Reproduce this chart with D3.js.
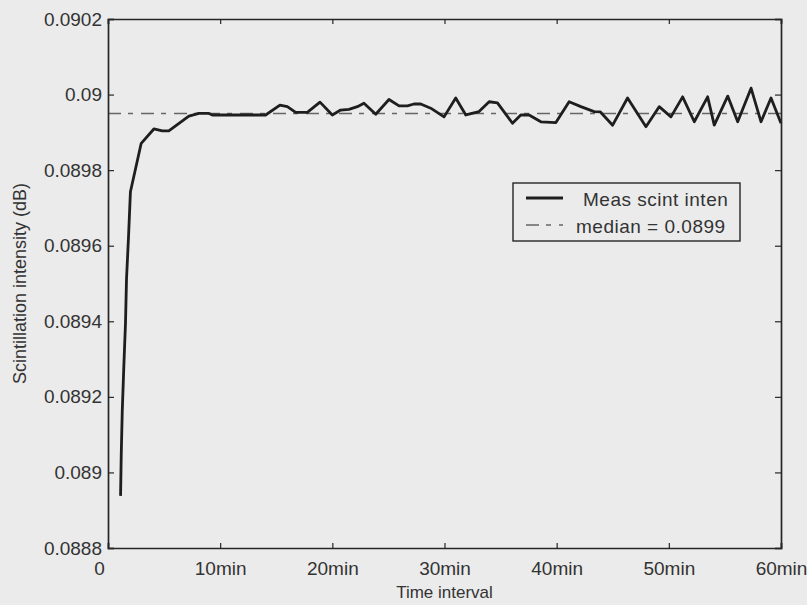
<!DOCTYPE html>
<html>
<head>
<meta charset="utf-8">
<script src="https://cdn.jsdelivr.net/npm/d3@7"></script>
<style>
    body { margin: 0; background: #ebebeb; }
    svg { display: block; }
</style>
</head>
<body>
<svg id="chart"></svg>
<script>
// time (minutes) of each measurement
var times = [1.12, 1.18, 1.27, 1.41, 1.56, 1.65, 1.83, 2.0, 2.96, 4.09, 4.84, 5.42, 7.21, 8.1, 9.0, 9.3,
    14.05, 15.33, 15.99, 16.73, 17.77, 18.9, 20.0, 20.74, 21.48, 22.23, 22.82, 23.87, 25.05, 25.95,
    26.7, 27.28, 27.88, 28.77, 29.96, 31.0, 31.9, 33.08, 33.98, 34.72, 36.06, 36.8, 37.54, 38.59,
    39.93, 41.11, 42.16, 43.34, 43.9, 44.99, 46.32, 47.96, 49.14, 50.19, 51.23, 52.27, 53.46,
    54.05, 55.25, 56.14, 57.33, 58.22, 59.11, 60];

// measured scintillation intensity (dB)
var intensity = [0.088938, 0.089046, 0.089161, 0.089280, 0.089395, 0.089512, 0.089624, 0.089743,
    0.089871, 0.089909, 0.089904, 0.089904, 0.089943, 0.089950, 0.089950, 0.089946,
    0.089946, 0.089972, 0.089968, 0.089953, 0.089953, 0.089980, 0.089946, 0.089959, 0.089961,
    0.089968, 0.089977, 0.089948, 0.089987, 0.089970, 0.089970, 0.089975, 0.089975, 0.089964,
    0.089941, 0.089991, 0.089946, 0.089955, 0.089981, 0.089978, 0.089924, 0.089946, 0.089946,
    0.089928, 0.089926, 0.089981, 0.089968, 0.089955, 0.089954, 0.089919, 0.089991, 0.089915,
    0.089968, 0.089941, 0.089994, 0.089928, 0.089994, 0.089919, 0.089996, 0.089928, 0.090017,
    0.089928, 0.089991, 0.089924];

var median = 0.08995;

var x_ticks = [0, 10, 20, 30, 40, 50, 60];
var x_labels = ["0", "10min", "20min", "30min", "40min", "50min", "60min"];
var y_ticks = [0.0888, 0.089, 0.0892, 0.0894, 0.0896, 0.0898, 0.09, 0.0902];
var y_labels = ["0.0888", "0.089", "0.0892", "0.0894", "0.0896", "0.0898", "0.09", "0.0902"];

var legend_labels = ["Meas scint inten", "median = 0.0899"];

var width = 807, height = 605;
var margin = ({top: 19, right: 26, bottom: 57, left: 108});
var font = "Arial, 'Liberation Sans', sans-serif";
var ink = "#262626";

var data = times.map((t, i) => ({t: t, v: intensity[i]}));

var x = d3.scaleLinear()
    .domain([0, 60])
    .range([margin.left, width - margin.right]);

var y = d3.scaleLinear()
    .domain([0.0888, 0.0902])
    .range([height - margin.bottom, margin.top]);

var svg = d3.select("#chart")
    .attr("width", width)
    .attr("height", height)
    .style("font-family", font);

svg.append("rect")
    .attr("width", width)
    .attr("height", height)
    .attr("fill", "#ebebeb");

// median line
svg.append("line")
    .attr("x1", x(0))
    .attr("x2", x(60))
    .attr("y1", y(median))
    .attr("y2", y(median))
    .attr("stroke", "#666")
    .attr("stroke-width", 1.6)
    .attr("stroke-dasharray", "13,7,5,8");

// measured curve
var line = d3.line()
    .x(d => x(d.t))
    .y(d => y(d.v));

svg.append("path")
    .datum(data)
    .attr("d", line)
    .attr("fill", "none")
    .attr("stroke", "#1e1e1e")
    .attr("stroke-width", 2.8)
    .attr("stroke-linejoin", "round");

// axes, inward ticks on all four sides (matlab box style)
var xAxisBottom = g => g
    .attr("transform", `translate(0,${height - margin.bottom})`)
    .call(d3.axisBottom(x).tickValues(x_ticks).tickSize(-5).tickFormat((d, i) => x_labels[i]))
    .call(g => g.selectAll(".tick text")
        .attr("dy", 0)
        .attr("y", 27)
        .attr("dx", (d, i) => i === 0 ? -9 : 0));

var xAxisTop = g => g
    .attr("transform", `translate(0,${margin.top})`)
    .call(d3.axisTop(x).tickValues(x_ticks).tickSize(-5).tickFormat(""));

var yAxisLeft = g => g
    .attr("transform", `translate(${margin.left},0)`)
    .call(d3.axisLeft(y).tickValues(y_ticks).tickSize(-6).tickFormat((d, i) => y_labels[i]))
    .call(g => g.selectAll(".tick text").attr("x", -6));

var yAxisRight = g => g
    .attr("transform", `translate(${width - margin.right},0)`)
    .call(d3.axisRight(y).tickValues(y_ticks).tickSize(-6).tickFormat(""));

[xAxisBottom, xAxisTop, yAxisLeft, yAxisRight].forEach(function(ax) {
    svg.append("g")
        .call(ax)
        .call(g => g.select(".domain").attr("stroke", ink).attr("stroke-width", 1.7))
        .call(g => g.selectAll(".tick line").attr("stroke", ink).attr("stroke-width", 1.2))
        .call(g => g.selectAll(".tick text")
            .attr("fill", "#333")
            .style("font-size", "19px")
            .style("font-family", font));
});

// axis titles
svg.append("text")
    .attr("x", (margin.left + width - margin.right) / 2)
    .attr("y", 598)
    .attr("text-anchor", "middle")
    .attr("fill", "#333")
    .style("font-size", "17px")
    .text("Time interval");

svg.append("text")
    .attr("transform", `translate(26,${(margin.top + height - margin.bottom) / 2}) rotate(-90)`)
    .attr("text-anchor", "middle")
    .attr("fill", "#333")
    .style("font-size", "18px")
    .text("Scintillation intensity (dB)");

// legend
var legend = svg.append("g")
    .attr("transform", "translate(513,183)");

legend.append("rect")
    .attr("width", 227)
    .attr("height", 58)
    .attr("fill", "#ebebeb")
    .attr("stroke", ink)
    .attr("stroke-width", 1.4);

legend.append("line")
    .attr("x1", 13).attr("x2", 50)
    .attr("y1", 15).attr("y2", 15)
    .attr("stroke", "#1e1e1e")
    .attr("stroke-width", 2.8);

legend.append("line")
    .attr("x1", 13).attr("x2", 50)
    .attr("y1", 42).attr("y2", 42)
    .attr("stroke", "#666")
    .attr("stroke-width", 1.6)
    .attr("stroke-dasharray", "13,7,5,8");

legend.selectAll("text.lab")
    .data(legend_labels)
    .enter()
    .append("text")
        .attr("class", "lab")
        .attr("x", (d, i) => i === 0 ? 70 : 63)
        .attr("y", (d, i) => 23 + i * 27)
        .attr("fill", "#333")
        .style("font-size", "19px")
        .style("letter-spacing", "0.5px")
        .text(d => d);
</script>
</body>
</html>
